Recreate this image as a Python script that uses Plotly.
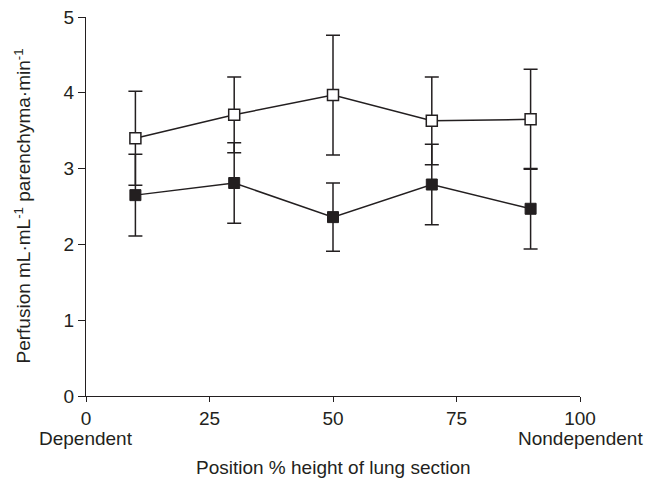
import plotly.graph_objects as go

positions = [10, 30, 50, 70, 90]
open_values = [3.40, 3.71, 3.97, 3.63, 3.65]
open_err = [0.62, 0.50, 0.79, 0.58, 0.66]
filled_values = [2.65, 2.81, 2.36, 2.79, 2.47]
filled_err = [0.54, 0.53, 0.45, 0.53, 0.53]
x_ticks = [0, 25, 50, 75, 100]
y_ticks = [0, 1, 2, 3, 4, 5]
x_end_labels = ["Dependent", "Nondependent"]
x_title = "Position % height of lung section"
y_title = "Perfusion mL·mL<sup>-1</sup> parenchyma·min<sup>-1</sup>"

INK = "#231f20"
FONT = "Liberation Sans, Arial, Helvetica, sans-serif"
FS = 19

fig = go.Figure()
fig.add_trace(go.Scatter(
    x=positions, y=filled_values, mode="lines+markers",
    line=dict(color=INK, width=1.5),
    marker=dict(symbol="square", size=11, color=INK, line=dict(color=INK, width=1)),
    error_y=dict(type="data", array=filled_err, visible=True, color=INK, thickness=1.5, width=7),
    showlegend=False,
))
fig.add_trace(go.Scatter(
    x=positions, y=open_values, mode="lines+markers",
    line=dict(color=INK, width=1.5),
    marker=dict(symbol="square", size=11, color="white", line=dict(color=INK, width=1.5)),
    error_y=dict(type="data", array=open_err, visible=True, color=INK, thickness=1.5, width=7),
    showlegend=False,
))

fig.update_layout(
    width=651, height=480,
    margin=dict(l=86, r=71, t=17, b=84),
    paper_bgcolor="white", plot_bgcolor="white",
    font=dict(family=FONT, size=FS, color=INK),
    xaxis=dict(
        range=[0, 100], tickvals=x_ticks, ticks="outside", ticklen=5, tickwidth=1.3,
        tickcolor=INK, showline=True, linecolor=INK, linewidth=1.3, showgrid=False,
        zeroline=False, tickfont=dict(size=FS), automargin=False,
    ),
    yaxis=dict(
        range=[0, 5], tickvals=y_ticks, ticks="outside", ticklen=7, tickwidth=1.3,
        tickcolor=INK, showline=True, linecolor=INK, linewidth=1.3, showgrid=False,
        zeroline=False, tickfont=dict(size=FS), automargin=False,
    ),
    annotations=[
        dict(x=x_ticks[0], y=0, xref="x", yref="paper", text=x_end_labels[0], showarrow=False,
             xanchor="center", yanchor="middle", yshift=-42, font=dict(size=FS)),
        dict(x=x_ticks[-1], y=0, xref="x", yref="paper", text=x_end_labels[1], showarrow=False,
             xanchor="center", yanchor="middle", yshift=-42, font=dict(size=FS)),
        dict(x=0.5, y=0, xref="paper", yref="paper", text=x_title, showarrow=False,
             xanchor="center", yanchor="middle", yshift=-71, font=dict(size=FS)),
        dict(x=0, y=0.5, xref="paper", yref="paper", text=y_title, showarrow=False,
             textangle=-90, xanchor="center", yanchor="middle", xshift=-64, font=dict(size=FS)),
    ],
)

fig.write_html("out.html", config={"displayModeBar": False},
               post_script="document.body.style.margin='0';")
